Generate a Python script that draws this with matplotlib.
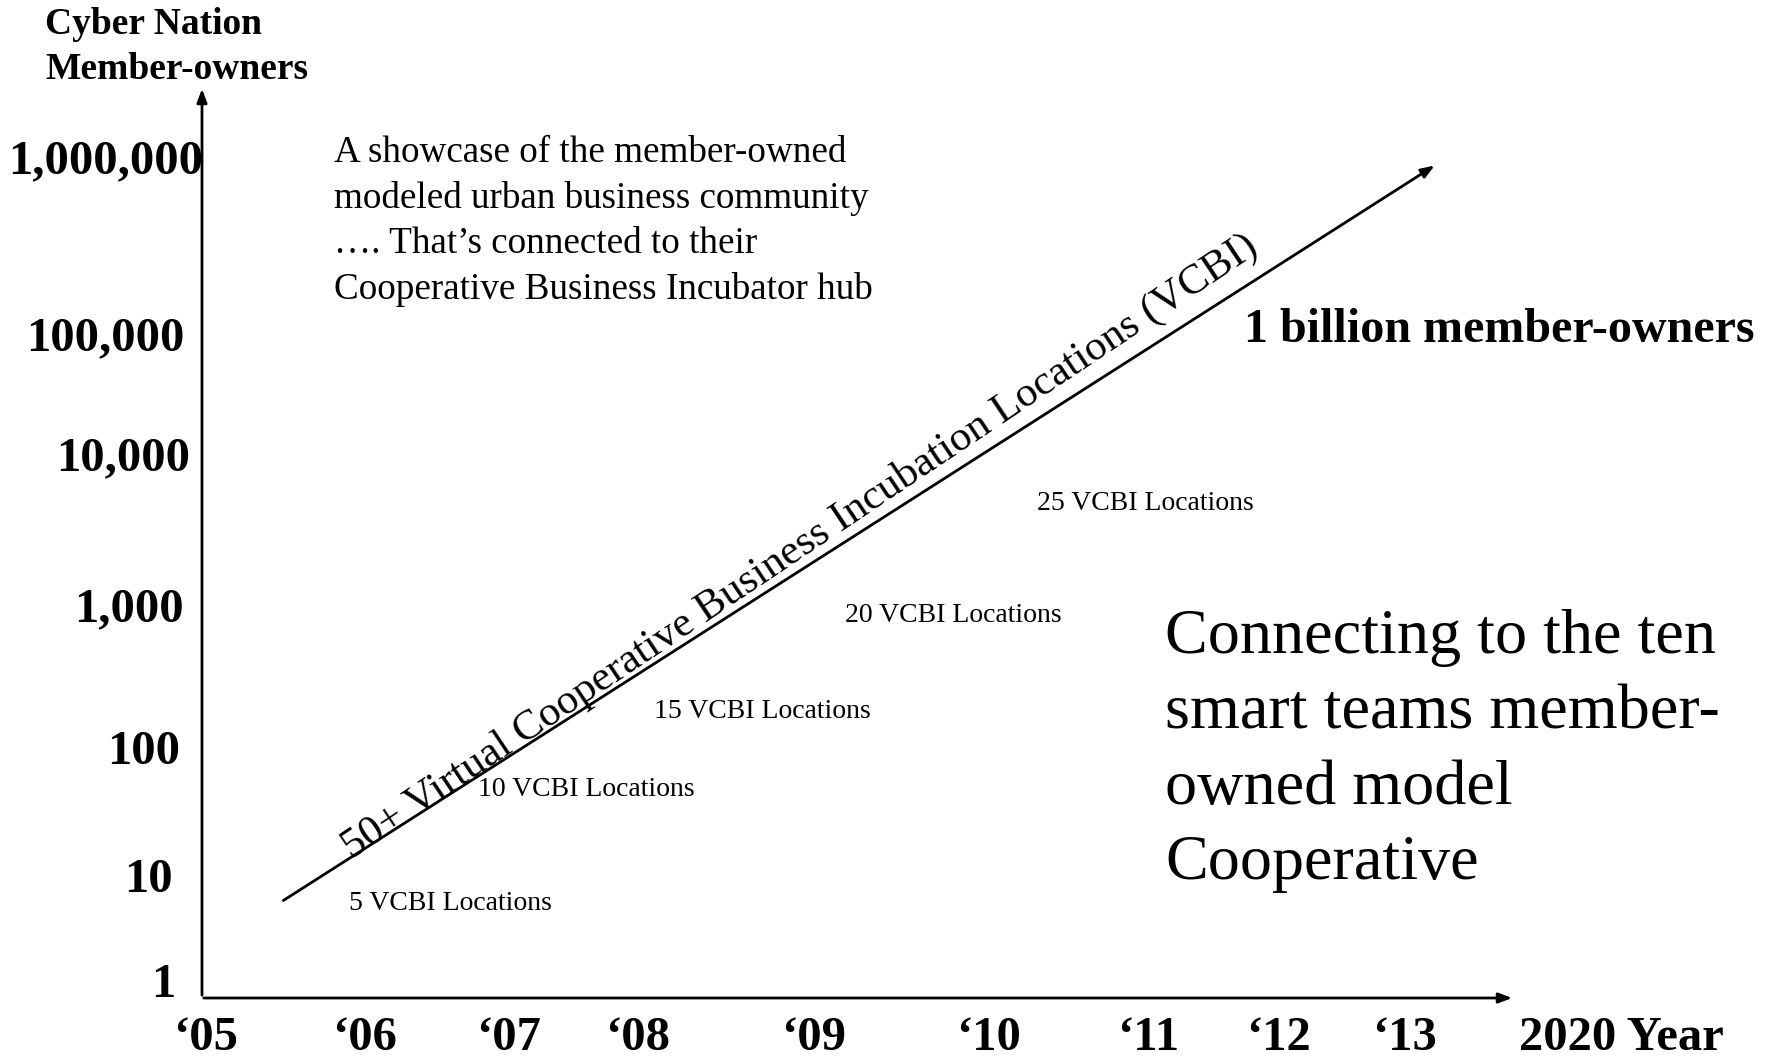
import matplotlib.pyplot as plt

# y axis labels (bottom to top), their pixel heights and right edges on the drawing
y_labels = ['1', '10', '100', '1,000', '10,000', '100,000', '1,000,000']
y_pos = [985, 880, 752, 609, 458, 338, 161]
y_right = [175, 173, 180, 184, 190, 184, 203]

# x axis labels and their pixel centres
x_labels = ['\u201805', '\u201806', '\u201807', '\u201808', '\u201809',
            '\u201810', '\u201811', '\u201812', '\u201813', '2020 Year']
x_pos = [206, 365, 509, 638, 814, 989, 1148, 1278, 1404, 1621]

# VCBI milestones along the growth line
vcbi_labels = ['5 VCBI Locations', '10 VCBI Locations', '15 VCBI Locations',
               '20 VCBI Locations', '25 VCBI Locations']
vcbi_x = [349, 478, 654, 845, 1037]
vcbi_y = [903, 790, 711, 616, 504]

# growth line, start and end
line_x = [281, 1437]
line_y = [902, 164]

W, H = 1769, 1057
plt.rcParams['font.family'] = ['Liberation Serif', 'DejaVu Serif']

fig = plt.figure(figsize=(W / 100, H / 100), dpi=100)
ax = fig.add_axes([0, 0, 1, 1])
ax.set_xlim(0, W)
ax.set_ylim(H, 0)
ax.axis('off')

# axes drawn as arrows
arrow = dict(arrowstyle='-|>,head_length=0.8,head_width=0.3', color='black', lw=2)
ax.annotate('', xy=(202, 86), xytext=(202, 998), arrowprops=arrow)
ax.annotate('', xy=(1515, 998), xytext=(201, 998), arrowprops=arrow)
ax.annotate('', xy=(line_x[1], line_y[1]), xytext=(line_x[0], line_y[0]), arrowprops=arrow)

# axis title
ax.text(45, 47, 'Cyber Nation\nMember-owners', fontsize=27, fontweight='bold',
        ha='left', va='center', linespacing=1.4)

for lab, y, x in zip(y_labels, y_pos, y_right):
    ax.text(x, y, lab, fontsize=35, fontweight='bold', ha='right', va='center')

for lab, x in zip(x_labels, x_pos):
    ax.text(x, 1038, lab, fontsize=35, fontweight='bold', ha='center', va='center')

for lab, x, y in zip(vcbi_labels, vcbi_x, vcbi_y):
    ax.text(x, y, lab, fontsize=20, ha='left', va='center')

# slanted label on the growth line
ax.text(800, 547, '50+ Virtual Cooperative Business Incubation Locations (VCBI)',
        fontsize=30.8, rotation=33.8, rotation_mode='anchor', ha='center', va='center')

ax.text(334, 221, 'A showcase of the member-owned\nmodeled urban business community\n'
        '\u2026. That\u2019s connected to their\nCooperative Business Incubator hub',
        fontsize=26.7, ha='left', va='center', linespacing=1.4)

ax.text(1754, 330, '1 billion member-owners', fontsize=34.6, fontweight='bold',
        ha='right', va='center')

ax.text(1165, 751, 'Connecting to the ten\nsmart teams member-\nowned model\nCooperative',
        fontsize=46.2, ha='left', va='center', linespacing=1.4)

fig.savefig('out.png', dpi=100)
